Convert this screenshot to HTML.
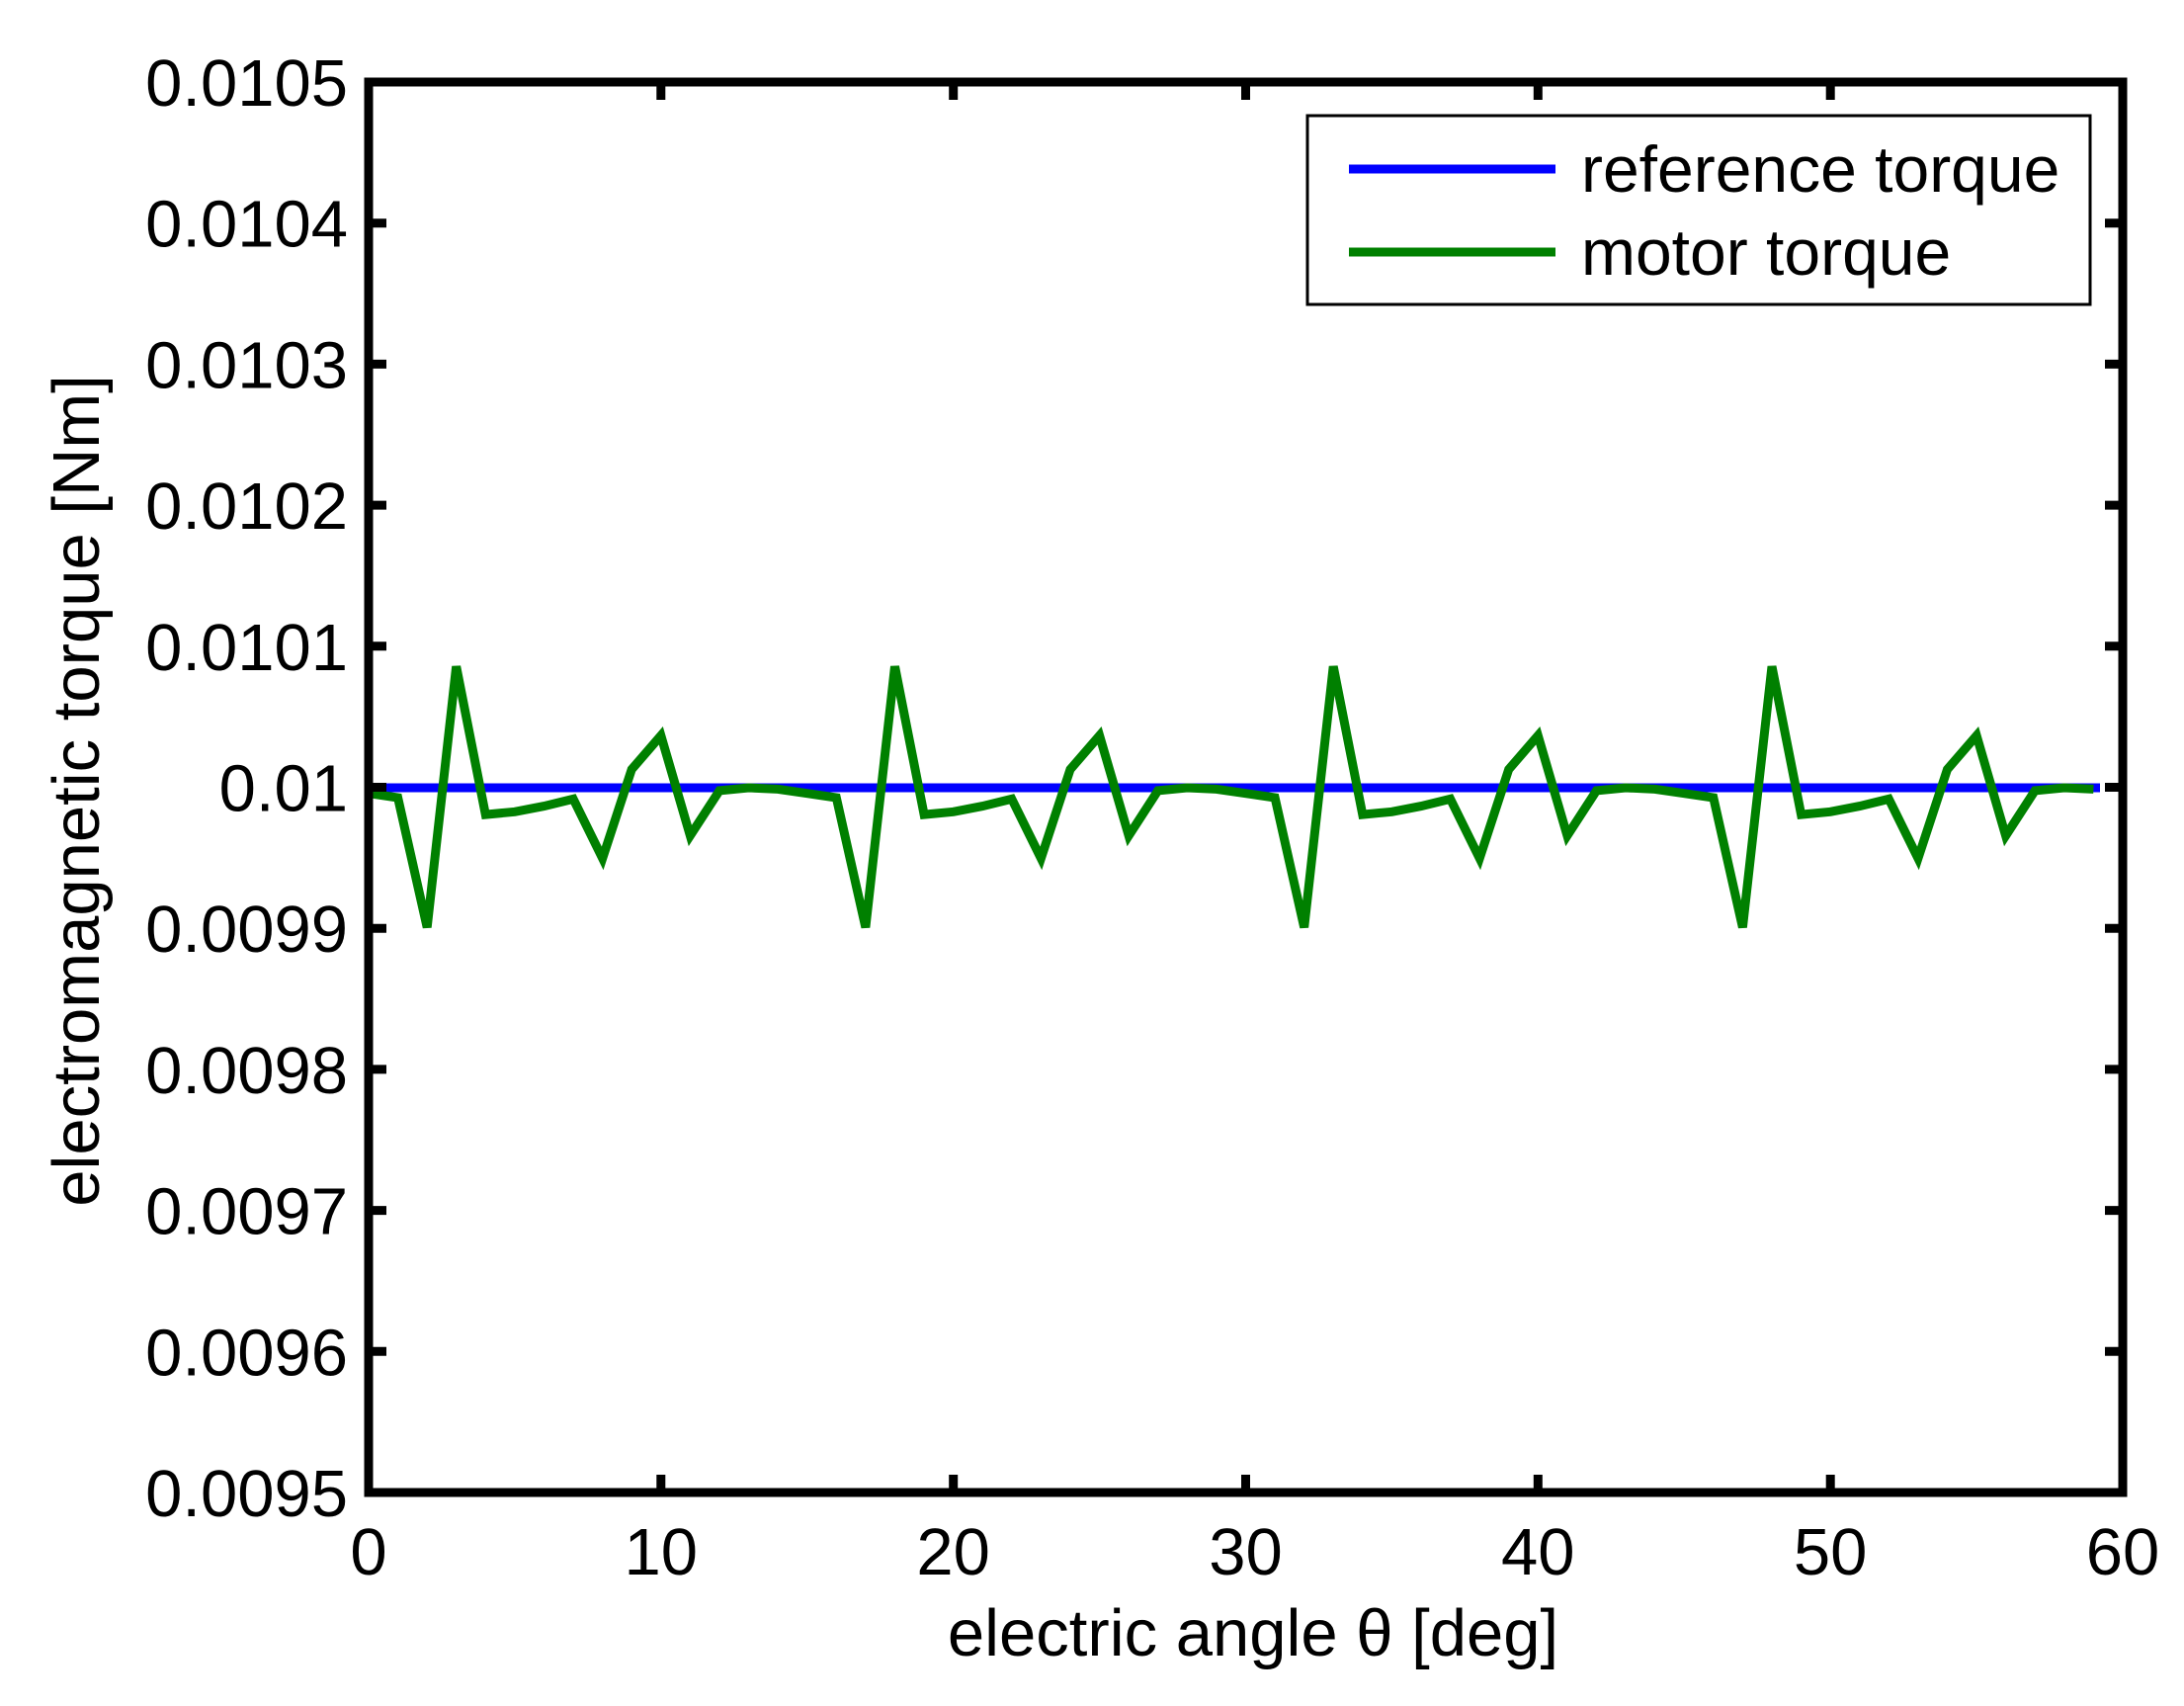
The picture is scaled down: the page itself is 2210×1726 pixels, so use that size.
<!DOCTYPE html>
<html><head><meta charset="utf-8"><style>html,body{margin:0;padding:0;background:#fff}</style></head>
<body>
<svg width="2210" height="1721" viewBox="0 0 2210 1721" xmlns="http://www.w3.org/2000/svg" font-family="Liberation Sans, sans-serif">
<rect width="2210" height="1721" fill="#fff"/>
<line x1="373" y1="797" x2="2125" y2="797" stroke="#0000ff" stroke-width="9"/>
<polyline id="g" fill="none" stroke="#008000" stroke-width="9" stroke-linejoin="miter" points=""/>
<rect x="373" y="83" width="1775" height="1427" fill="none" stroke="#000" stroke-width="9"/>
<g stroke="#000" stroke-width="9">
<line x1="668.8" y1="1510" x2="668.8" y2="1492"/><line x1="964.7" y1="1510" x2="964.7" y2="1492"/><line x1="1260.5" y1="1510" x2="1260.5" y2="1492"/><line x1="1556.3" y1="1510" x2="1556.3" y2="1492"/><line x1="1852.2" y1="1510" x2="1852.2" y2="1492"/>
<line x1="668.8" y1="83" x2="668.8" y2="101"/><line x1="964.7" y1="83" x2="964.7" y2="101"/><line x1="1260.5" y1="83" x2="1260.5" y2="101"/><line x1="1556.3" y1="83" x2="1556.3" y2="101"/><line x1="1852.2" y1="83" x2="1852.2" y2="101"/>
<line x1="373" y1="1367.3" x2="391" y2="1367.3"/><line x1="373" y1="1224.6" x2="391" y2="1224.6"/><line x1="373" y1="1081.9" x2="391" y2="1081.9"/><line x1="373" y1="939.2" x2="391" y2="939.2"/><line x1="373" y1="796.5" x2="391" y2="796.5"/><line x1="373" y1="653.8" x2="391" y2="653.8"/><line x1="373" y1="511.1" x2="391" y2="511.1"/><line x1="373" y1="368.4" x2="391" y2="368.4"/><line x1="373" y1="225.7" x2="391" y2="225.7"/>
<line x1="2148" y1="1367.3" x2="2130" y2="1367.3"/><line x1="2148" y1="1224.6" x2="2130" y2="1224.6"/><line x1="2148" y1="1081.9" x2="2130" y2="1081.9"/><line x1="2148" y1="939.2" x2="2130" y2="939.2"/><line x1="2148" y1="796.5" x2="2130" y2="796.5"/><line x1="2148" y1="653.8" x2="2130" y2="653.8"/><line x1="2148" y1="511.1" x2="2130" y2="511.1"/><line x1="2148" y1="368.4" x2="2130" y2="368.4"/><line x1="2148" y1="225.7" x2="2130" y2="225.7"/>
</g>
<g font-size="67" fill="#000" text-anchor="middle">
<text x="373" y="1593">0</text><text x="668.8" y="1593">10</text><text x="964.7" y="1593">20</text><text x="1260.5" y="1593">30</text><text x="1556.3" y="1593">40</text><text x="1852.2" y="1593">50</text><text x="2148" y="1593">60</text>
</g>
<g font-size="67" fill="#000" text-anchor="end">
<text x="352" y="1534">0.0095</text><text x="352" y="1391.3">0.0096</text><text x="352" y="1248.6">0.0097</text><text x="352" y="1105.9">0.0098</text><text x="352" y="963.2">0.0099</text><text x="352" y="820.5">0.01</text><text x="352" y="677.8">0.0101</text><text x="352" y="535.1">0.0102</text><text x="352" y="392.4">0.0103</text><text x="352" y="249.7">0.0104</text><text x="352" y="107">0.0105</text>
</g>
<text x="1268" y="1675" font-size="67" text-anchor="middle">electric angle θ [deg]</text>
<text transform="translate(100,800) rotate(-90)" font-size="67" text-anchor="middle">electromagnetic torque [Nm]</text>
<rect x="1323" y="117" width="792" height="191" fill="#fff" stroke="#000" stroke-width="3"/>
<line x1="1365" y1="171" x2="1574" y2="171" stroke="#0000ff" stroke-width="9"/>
<line x1="1365" y1="255" x2="1574" y2="255" stroke="#008000" stroke-width="9"/>
<text x="1600" y="194" font-size="66">reference torque</text>
<text x="1600" y="278" font-size="66">motor torque</text>
<script>
var pat=[-0.04,-0.07,-0.99,0.86,-0.19,-0.17,-0.13,-0.08,-0.5,0.13,0.37,-0.34,-0.02,0,-0.01];
var pts=[];
for(var i=0;i<60;i++){var d=pat[i%15];pts.push((373+29.583*i).toFixed(1)+","+(797-142.7*d).toFixed(1));}
document.getElementById('g').setAttribute('points',pts.join(' '));
</script>
</svg>
</body></html>
